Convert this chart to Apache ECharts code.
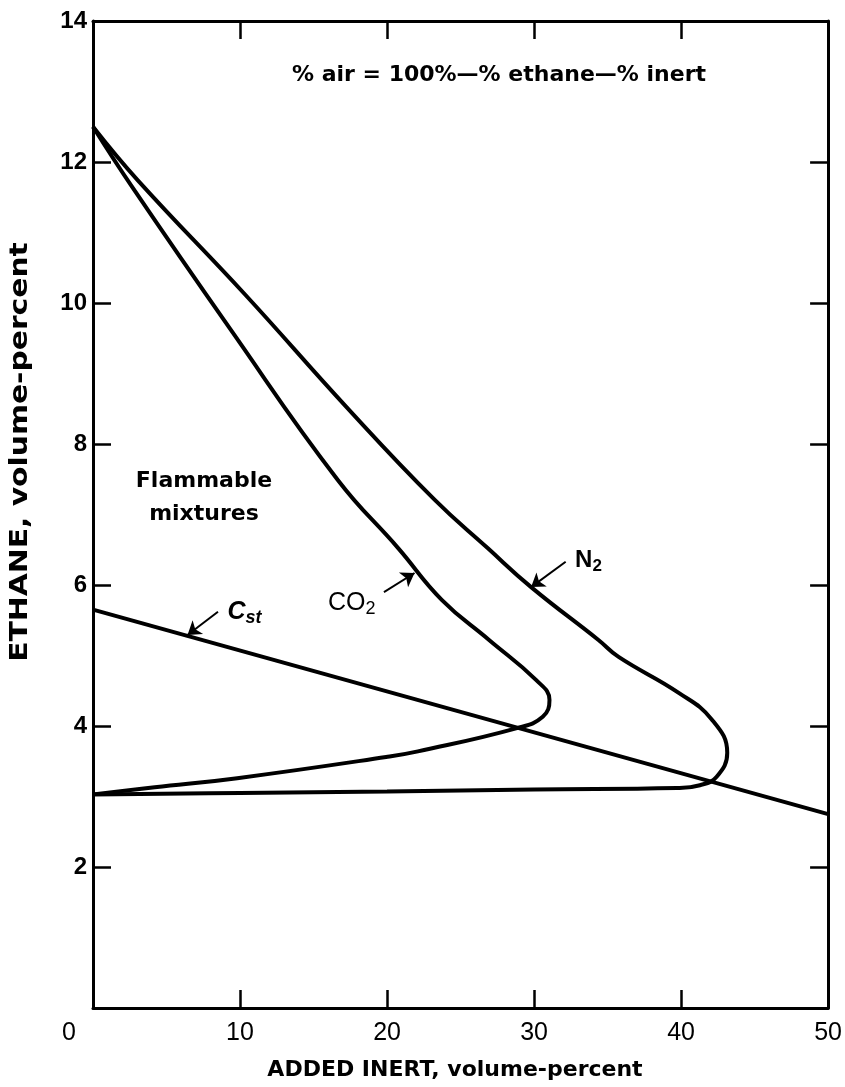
<!DOCTYPE html>
<html>
<head>
<meta charset="utf-8">
<script src="https://cdn.jsdelivr.net/npm/echarts@6/dist/echarts.min.js"></script>
<style>
html,body{margin:0;padding:0;background:#fff;}
#chart{width:845px;height:1087px;}
</style>
</head>
<body>
<div id="chart"></div>
<script>
// ---- data ----
const n2X  = [0, 3.05, 10.39, 17.26, 23.23, 26.86, 29.8, 34.38, 35.75, 39.84, 42.1, 43.14, 42.42, 41.28, 39.72, 30, 20, 10, 0];
const n2Y  = [12.5, 11.74, 10.11, 8.52, 7.21, 6.52, 5.97, 5.22, 4.98, 4.47, 4.09, 3.62, 3.28, 3.16, 3.12, 3.1, 3.07, 3.05, 3.03];
const co2X = [0, 2.65, 9.27, 16.65, 20.77, 23.72, 26.94, 30.15, 31.05, 30.59, 28.84, 22.1, 19.94, 9.81, 4.2, 0];
const co2Y = [12.5, 11.65, 9.65, 7.49, 6.52, 5.79, 5.22, 4.65, 4.37, 4.13, 3.97, 3.64, 3.56, 3.26, 3.13, 3.03];
const cstX = [0, 50];
const cstY = [5.65, 2.75];

// annotation anchors (data coordinates)
const co2Label = [17.6, 5.75];
const co2Arrow = [[19.79, 5.9], [21.87, 6.17]];
const n2Label  = [33.7, 6.35];
const n2Arrow  = [[32.15, 6.33], [29.8, 5.97]];
const cstLabel = [10.3, 5.62];
const cstArrow = [[8.5, 5.62], [6.43, 5.29]];

const titleText = '% air = 100%\u2014% ethane\u2014% inert';
const regionText = 'Flammable\nmixtures';
const xName = 'ADDED INERT, volume-percent';
const yName = 'ETHANE, volume-percent';

function pairs(xs, ys){ return xs.map((x,i)=>[x, ys[i]]); }

const FONT = '"DejaVu Sans", sans-serif';
const NUMFONT = '"Liberation Sans", Arial, sans-serif';

const chart = echarts.init(document.getElementById('chart'), null, {renderer:'canvas'});

const lineCommon = {
  type:'line', showSymbol:false, symbol:'none', smooth:0.45,
  lineStyle:{color:'#000', width:4}, animation:false, silent:true
};
function arrow(a){
  return {
    symbol:['none','arrow'], symbolSize:13, silent:true, animation:false,
    itemStyle:{color:'#000'},
    lineStyle:{color:'#000', width:2, type:'solid'}, label:{show:false},
    data:[[{coord:a[0]},{coord:a[1]}]]
  };
}
function mpoint(c, text, rich, weight, size){
  return {
    symbol:'circle', symbolSize:1, silent:true, animation:false,
    itemStyle:{color:'rgba(0,0,0,0)'},
    label:{show:true, position:'inside', formatter:text, color:'#000',
           fontFamily:NUMFONT, fontSize:size || 24, fontWeight:weight || 'normal', rich:rich},
    data:[{coord:c}]
  };
}

const axisLineStyle = {show:true, onZero:false, lineStyle:{color:'#000', width:3}};
const tickStyle = {show:true, inside:true, length:18, lineStyle:{color:'#000', width:2.5}};

chart.setOption({
  backgroundColor:'#fff',
  animation:false,
  grid:{left:93, right:12, top:21, bottom:79, containLabel:false},
  xAxis:[{
    type:'value', min:0, max:50, interval:10, position:'bottom',
    axisLine:axisLineStyle, axisTick:tickStyle, splitLine:{show:false},
    axisLabel:{color:'#000', fontFamily:NUMFONT, fontSize:25, margin:13, alignMinLabel:'right',
      formatter:function(v){ return v === 0 ? '{z|0}' : String(v); },
      rich:{z:{fontFamily:NUMFONT, fontSize:25, color:'#000', padding:[0,17,0,0]}}}
  },{
    type:'value', min:0, max:50, interval:10, position:'top',
    axisLine:axisLineStyle, axisTick:tickStyle, splitLine:{show:false},
    axisLabel:{show:false}
  }],
  yAxis:[{
    type:'value', min:0, max:14, interval:2, position:'left',
    axisLine:axisLineStyle, axisTick:tickStyle, splitLine:{show:false},
    axisLabel:{color:'#000', fontFamily:NUMFONT, fontWeight:'bold', fontSize:24, margin:6, showMinLabel:false}
  },{
    type:'value', min:0, max:14, interval:2, position:'right',
    axisLine:axisLineStyle, axisTick:tickStyle, splitLine:{show:false},
    axisLabel:{show:false}
  }],
  graphic:[{
    type:'text', x:499, y:75,
    style:{text:titleText, font:'bold 22px ' + FONT, fill:'#000', textAlign:'center', textVerticalAlign:'middle'}
  },{
    type:'text', x:204, y:498,
    style:{text:regionText, font:'bold 22px ' + FONT, fill:'#000', textAlign:'center', textVerticalAlign:'middle', lineHeight:33}
  },{
    type:'text', x:455, y:1070,
    style:{text:xName, font:'bold 22px ' + FONT, fill:'#000', textAlign:'center', textVerticalAlign:'middle'}
  },{
    type:'text', x:21, y:452, rotation:Math.PI/2, scaleX:1.24,
    style:{text:yName, font:'bold 24px ' + FONT, fill:'#000', textAlign:'center', textVerticalAlign:'middle'}
  }],
  series:[
    Object.assign({}, lineCommon, {
      name:'N2', data:pairs(n2X, n2Y),
      markLine:arrow(n2Arrow),
      markPoint:mpoint(n2Label, 'N{s|2}', {
        s:{fontFamily:NUMFONT, fontSize:17, color:'#000', padding:[12,0,0,0], fontWeight:'bold'}
      }, 'bold')
    }),
    Object.assign({}, lineCommon, {
      name:'CO2', data:pairs(co2X, co2Y),
      markLine:arrow(co2Arrow),
      markPoint:mpoint(co2Label, 'CO{s|2}', {
        s:{fontFamily:NUMFONT, fontSize:18, color:'#000', padding:[12,0,0,0]}
      }, 'normal', 25)
    }),
    Object.assign({}, lineCommon, {
      name:'Cst', data:pairs(cstX, cstY), smooth:false,
      markLine:arrow(cstArrow),
      markPoint:mpoint(cstLabel, '{c|C}{s|st}', {
        c:{fontFamily:NUMFONT, fontStyle:'italic', fontWeight:'bold', fontSize:25, color:'#000'},
        s:{fontFamily:NUMFONT, fontStyle:'italic', fontWeight:'bold', fontSize:18, color:'#000', padding:[12,0,0,0]}
      })
    })
  ]
});
</script>
</body>
</html>
